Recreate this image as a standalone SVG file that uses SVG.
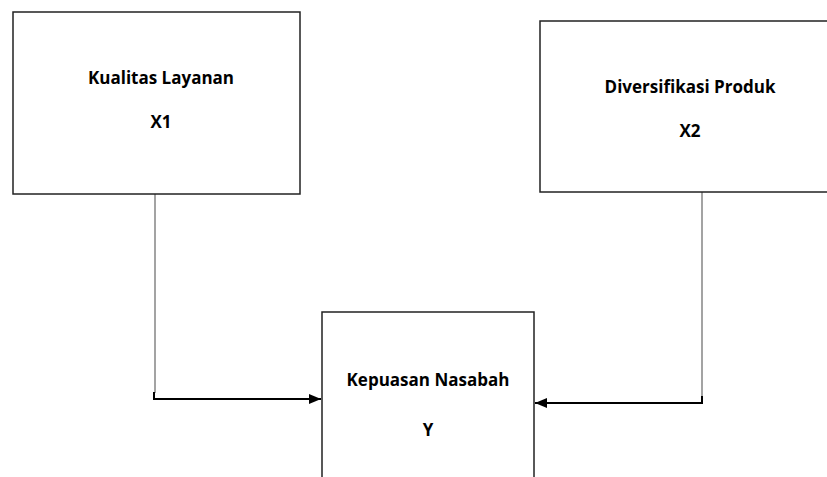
<svg xmlns="http://www.w3.org/2000/svg" width="827" height="477" viewBox="0 0 827 477">
<style>
.box{fill:#fff;stroke:#222;stroke-width:1.5}
.lbl{font-family:"Open Sans","Liberation Sans",sans-serif;font-weight:bold;font-size:17px;fill:#000;text-anchor:middle}
.vline{stroke:#666;stroke-width:1.2;fill:none}
.hline{stroke:#000;stroke-width:2;fill:none}
</style>
<defs>
<marker id="arr" markerWidth="12" markerHeight="10" refX="12" refY="5" orient="auto" markerUnits="userSpaceOnUse">
<path d="M0,0 L12,5 L0,10 Z" fill="#000"/>
</marker>
</defs>
<g id="connectors">
<path class="vline" d="M155,194 V393"/>
<path class="hline" d="M154,392 V399 H321" marker-end="url(#arr)"/>
<path class="vline" d="M702,192 V396"/>
<path class="hline" d="M702,396 V403 H535" marker-end="url(#arr)"/>
</g>
<g id="x1">
<rect class="box" x="13" y="12" width="287" height="182"/>
<text class="lbl" x="161" y="84">Kualitas Layanan</text>
<text class="lbl" x="161" y="128">X1</text>
</g>
<g id="x2">
<rect class="box" x="540" y="21" width="295" height="171"/>
<text class="lbl" x="690" y="93">Diversifikasi Produk</text>
<text class="lbl" x="690" y="137">X2</text>
</g>
<g id="y">
<rect class="box" x="322" y="312" width="212" height="180"/>
<text class="lbl" x="428" y="386">Kepuasan Nasabah</text>
<text class="lbl" x="428" y="436">Y</text>
</g>
</svg>
